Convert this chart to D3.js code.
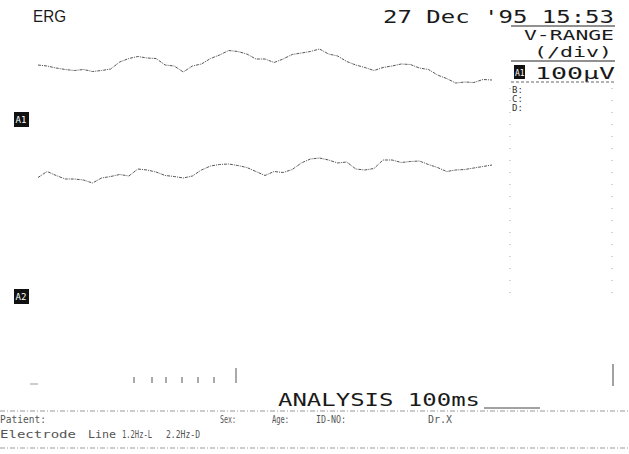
<!DOCTYPE html>
<html>
<head>
<meta charset="utf-8">
<script src="https://cdn.jsdelivr.net/npm/d3@7"></script>
<style>
  body { margin: 0; background: #fff; }
  svg { display: block; }
  text { font-family: "DejaVu Sans Mono", monospace; fill: #1a1a1a; }
</style>
</head>
<body>
<div class="erg-container"></div>
<script>
// sweep time (ms), 2 ms steps over the 100 ms analysis window
const time_ms = [0,2,4,6,8,10,12,14,16,18,20,22,24,26,28,30,32,34,36,38,40,
  42,44,46,48,50,52,54,56,58,60,62,64,66,68,70,72,74,76,78,80,
  82,84,86,88,90,92,94,96,98,100];
// channel A1 (uV)
const a1_values = [0,-2,-6,-9,-11,-9,-13,-11,-8,6,13,17,14,13,0,-2,-14,-2,2,13,20,
  29,27,22,12,12,5,12,21,24,27,32,22,18,7,0,-5,-11,-5,-2,2,
  1,-6,-9,-20,-27,-36,-34,-35,-29,-30];
// channel A2 (uV)
const a2_values = [-11,1,-7,-14,-14,-16,-22,-12,-9,-5,-8,6,4,0,-7,-9,-12,-8,4,12,15,
  16,13,9,1,-7,1,-1,5,18,26,28,24,18,20,6,4,7,24,24,19,
  21,22,15,9,1,4,5,8,11,14];
const channels = ['A1', 'A2'];
const range_rows = ['B:', 'C:', 'D:'];
const footer_row1 = [['Patient:', 0, 46], ['Sex:', 220, 16], ['Age:', 272, 17], ['ID-NO:', 316, 30], ['Dr.X', 428, 24]];
const footer_row2 = [['Electrode', 0, 76], ['Line', 88, 28], ['1.2Hz-L', 122, 30], ['2.2Hz-D', 166, 34]];

const svg_width = 629;
const svg_height = 454;
const svg = d3.select('.erg-container')
              .append('svg')
              .attr('width', svg_width)
              .attr('height', svg_height);

//scales
const x_scale = d3.scaleLinear().domain([0, 100]).range([38, 492]);
const baselines = {A1: 65, A2: 172};
const y_scale = ch => d3.scaleLinear().domain([-100, 100]).range([baselines[ch] + 50, baselines[ch] - 50]);

const series = [
  {ch: 'A1', values: a1_values},
  {ch: 'A2', values: a2_values}
];

//traces
series.forEach(s => {
  const ys = y_scale(s.ch);
  const line = d3.line()
                 .x((d, i) => x_scale(time_ms[i]))
                 .y(d => ys(d));
  svg.append('path')
     .datum(s.values)
     .attr('d', line)
     .attr('fill', 'none')
     .attr('stroke', '#555')
     .attr('stroke-width', 1)
     .attr('stroke-dasharray', '3,1,1,1');
});

//dotted frame lines of the right panel
[510, 612].forEach(x => {
  svg.append('line')
     .attr('x1', x).attr('x2', x)
     .attr('y1', 88).attr('y2', 300)
     .attr('stroke', '#aaa').attr('stroke-width', 1)
     .attr('stroke-dasharray', '1,11');
});

//header
svg.append('text').attr('x', 33).attr('y', 22)
   .attr('font-size', 17).attr('textLength', 33).attr('lengthAdjust', 'spacingAndGlyphs')
   .style('font-family', '"Liberation Sans", sans-serif')
   .text('ERG');
svg.append('text').attr('x', 383).attr('y', 23)
   .attr('font-size', 17).attr('textLength', 231).attr('lengthAdjust', 'spacingAndGlyphs')
   .text("27 Dec '95 15:53");
svg.append('line').attr('x1', 511).attr('x2', 615).attr('y1', 26).attr('y2', 26)
   .attr('stroke', '#222').attr('stroke-width', 1);
svg.append('text').attr('x', 524).attr('y', 40)
   .attr('font-size', 14).attr('textLength', 90).attr('lengthAdjust', 'spacingAndGlyphs')
   .text('V-RANGE');
svg.append('text').attr('x', 534).attr('y', 57)
   .attr('font-size', 14).attr('textLength', 78).attr('lengthAdjust', 'spacingAndGlyphs')
   .text('(/div)');
svg.append('line').attr('x1', 511).attr('x2', 615).attr('y1', 61).attr('y2', 61)
   .attr('stroke', '#222').attr('stroke-width', 1);

//channel range row
svg.append('rect').attr('x', 514).attr('y', 65).attr('width', 11).attr('height', 14).attr('fill', '#111');
svg.append('text').attr('x', 515).attr('y', 76).attr('font-size', 8)
   .style('fill', '#fff').text('A1');
svg.append('text').attr('x', 535).attr('y', 79)
   .attr('font-size', 15).attr('textLength', 80).attr('lengthAdjust', 'spacingAndGlyphs')
   .text('100μV');
svg.append('line').attr('x1', 511).attr('x2', 615).attr('y1', 82).attr('y2', 82)
   .attr('stroke', '#666').attr('stroke-width', 1).attr('stroke-dasharray', '3,2');
range_rows.forEach((r, i) => {
  svg.append('text').attr('x', 512).attr('y', 93 + i * 9)
     .attr('font-size', 9).style('fill', '#333').text(r);
});

//channel labels on the left
const label_y = {A1: 112, A2: 289};
channels.forEach(ch => {
  svg.append('rect').attr('x', 14).attr('y', label_y[ch]).attr('width', 15).attr('height', 15)
     .attr('fill', '#111');
  svg.append('text').attr('x', 15.5).attr('y', label_y[ch] + 11).attr('font-size', 9)
     .style('fill', '#fff').text(ch);
});

//trigger marks near the bottom
const mark_x = [134, 152, 166, 182, 198, 214, 236];
mark_x.forEach((x, i) => {
  svg.append('line').attr('x1', x).attr('x2', x)
     .attr('y1', i === mark_x.length - 1 ? 368 : 377).attr('y2', 383)
     .attr('stroke', '#555').attr('stroke-width', 1);
});
svg.append('line').attr('x1', 613).attr('x2', 613).attr('y1', 364).attr('y2', 386)
   .attr('stroke', '#444').attr('stroke-width', 1);
svg.append('line').attr('x1', 30).attr('x2', 38).attr('y1', 384).attr('y2', 384)
   .attr('stroke', '#999').attr('stroke-width', 1);

//analysis label
svg.append('text').attr('x', 278).attr('y', 406)
   .attr('font-size', 17).attr('textLength', 202).attr('lengthAdjust', 'spacingAndGlyphs')
   .text('ANALYSIS 100ms');
svg.append('line').attr('x1', 484).attr('x2', 540).attr('y1', 408).attr('y2', 408)
   .attr('stroke', '#444').attr('stroke-width', 1);

//footer
[411, 448].forEach(y => {
  svg.append('line').attr('x1', 0).attr('x2', 629).attr('y1', y).attr('y2', y)
     .attr('stroke', '#999').attr('stroke-width', 1).attr('stroke-dasharray', '5,2,1,2');
});
footer_row1.forEach(d => {
  svg.append('text').attr('x', d[1]).attr('y', 423).attr('font-size', 10)
     .attr('textLength', d[2]).attr('lengthAdjust', 'spacingAndGlyphs')
     .style('fill', '#555').text(d[0]);
});
footer_row2.forEach(d => {
  svg.append('text').attr('x', d[1]).attr('y', 438).attr('font-size', 10)
     .attr('textLength', d[2]).attr('lengthAdjust', 'spacingAndGlyphs')
     .style('fill', '#555').text(d[0]);
});
</script>
</body>
</html>
